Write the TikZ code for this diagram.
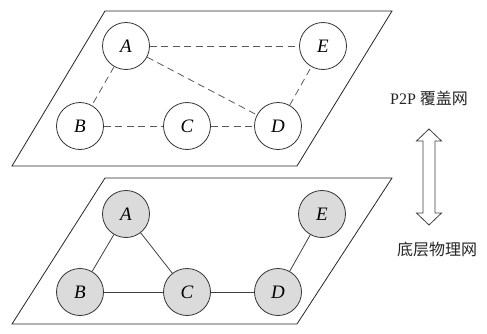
\documentclass[tikz,border=0pt]{standalone}
\usepackage{fontspec}
\newfontfamily\cjk{Noto Sans CJK SC}
\newfontfamily\timesface{Liberation Serif}
\begin{document}
\begin{tikzpicture}[x=1pt,y=-1pt,
  plane/.style={draw=black!85,line width=0.8pt},
  peer/.style={circle,draw=black!80,line width=0.8pt,fill=white,minimum size=47pt,inner sep=0pt,font=\timesface\fontsize{19}{19}\selectfont\itshape},
  host/.style={peer,fill=black!14},
  overlay/.style={draw=black!65,line width=0.8pt,dash pattern=on 7pt off 4.5pt},
  link/.style={draw=black!75,line width=0.8pt},
  caption/.style={font=\timesface\fontsize{16}{16}\selectfont,text=black!85},
  updown/.style={draw=black!75,line width=0.8pt,fill=white,line join=miter}]
\useasboundingbox (0,0) rectangle (487,333);

% overlay plane
\draw[plane] (105,11) -- (392,11) -- (297,166) -- (12,166) -- cycle;
\node[peer] (oA) at (126,46) {A};
\node[peer] (oE) at (323,46) {E};
\node[peer] (oB) at (80,126) {B};
\node[peer] (oC) at (187,126) {C};
\node[peer] (oD) at (278,126) {D};
\draw[overlay] (oA) -- (oE);
\draw[overlay] (oA) -- (oD);
\draw[overlay] (oA) -- (oB);
\draw[overlay] (oB) -- (oC);
\draw[overlay] (oC) -- (oD);
\draw[overlay] (oD) -- (oE);

% physical plane
\draw[plane] (105,178) -- (392,178) -- (297,324) -- (12,324) -- cycle;
\node[host] (pA) at (126,214) {A};
\node[host] (pE) at (322,214) {E};
\node[host] (pB) at (80,292) {B};
\node[host] (pC) at (187,292) {C};
\node[host] (pD) at (278,292) {D};
\draw[link] (pA) -- (pB);
\draw[link] (pA) -- (pC);
\draw[link] (pB) -- (pC);
\draw[link] (pC) -- (pD);
\draw[link] (pD) -- (pE);

% layer captions
\node[caption] (top) at (429,98) {P2P {\cjk 覆盖网}};
\node[caption] (bottom) at (437,249) {\cjk 底层物理网};

% hollow two-headed arrow between the layers
\draw[updown] (429,129) -- (441.5,141) -- (435,141) -- (435,213) -- (441.5,213)
  -- (429,225) -- (416.5,213) -- (423,213) -- (423,141) -- (416.5,141) -- cycle;
\end{tikzpicture}
\end{document}
